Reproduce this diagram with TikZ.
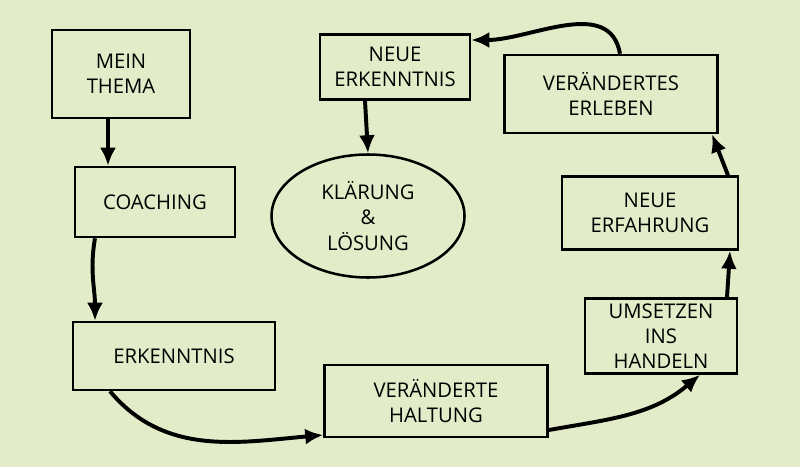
\documentclass[tikz,border=0pt]{standalone}
\usepackage{fontspec}
\setmainfont{Open Sans}
\usetikzlibrary{arrows.meta}
\usetikzlibrary{shapes.geometric}
\definecolor{paper}{HTML}{E2ECC8}
\begin{document}
\begin{tikzpicture}[
				x=0.025cm, y=-0.025cm,
				arrow/.style={line width=2.8pt, -{Latex[length=4.5mm,width=4mm]}},
				block/.style={draw, line width=1.8pt, align=center, font=\Large, inner sep=0pt},
			]
				\fill[paper] (0,0) rectangle (800,467);
				\useasboundingbox (0,0) rectangle (800,467);

				\node[block, minimum width=138*0.025cm, minimum height=88*0.025cm] (thema) at (121,74) {MEIN\\THEMA};
				\node[block, minimum width=160*0.025cm, minimum height=70*0.025cm] (coaching) at (155,202) {COACHING};
				\node[block, minimum width=202*0.025cm, minimum height=68*0.025cm] (erkenntnis) at (174,356) {ERKENNTNIS};
				\node[block, minimum width=223*0.025cm, minimum height=72*0.025cm] (haltung) at (436,401) {VERÄNDERTE\\HALTUNG};
				\node[block, minimum width=152*0.025cm, minimum height=75*0.025cm] (umsetzen) at (661,336) {UMSETZEN\\INS\\HANDELN};
				\node[block, minimum width=176*0.025cm, minimum height=73*0.025cm] (erfahrung) at (650,213) {NEUE\\ERFAHRUNG};
				\node[block, minimum width=213*0.025cm, minimum height=78*0.025cm] (erleben) at (611,94) {VERÄNDERTES\\ERLEBEN};
				\node[block, minimum width=150*0.025cm, minimum height=65*0.025cm] (neu) at (395,67) {NEUE\\ERKENNTNIS};
				\node[block, ellipse, minimum width=193*0.025cm, minimum height=123*0.025cm] (klaerung) at (368,216) {KLÄRUNG\\\&\\LÖSUNG};

				\draw[arrow] (thema.south -| 108,0) -- (coaching.north -| 108,0);
				\draw[arrow] (coaching.south -| 95,0) to[out=-100, in=90] (erkenntnis.north -| 95,0);
				\draw[arrow] (erkenntnis.south -| 110,0) to[out=-50, in=185] (haltung.south west |- 0,435);
				\draw[arrow] (haltung.east |- 0,430) to[out=10, in=-140] (umsetzen.south -| 700,0);
				\draw[arrow] (umsetzen.north -| 727,0) -- (erfahrung.south -| 730,0);
				\draw[arrow] (erfahrung.north -| 728,0) -- (erleben.south -| 712,0);
				\draw[arrow] (erleben.north -| 620,0) to[out=100, in=0] (neu.north east |- 0,40);
				\draw[arrow] (neu.south -| 365,0) -- (klaerung.north);
			\end{tikzpicture}
\end{document}
